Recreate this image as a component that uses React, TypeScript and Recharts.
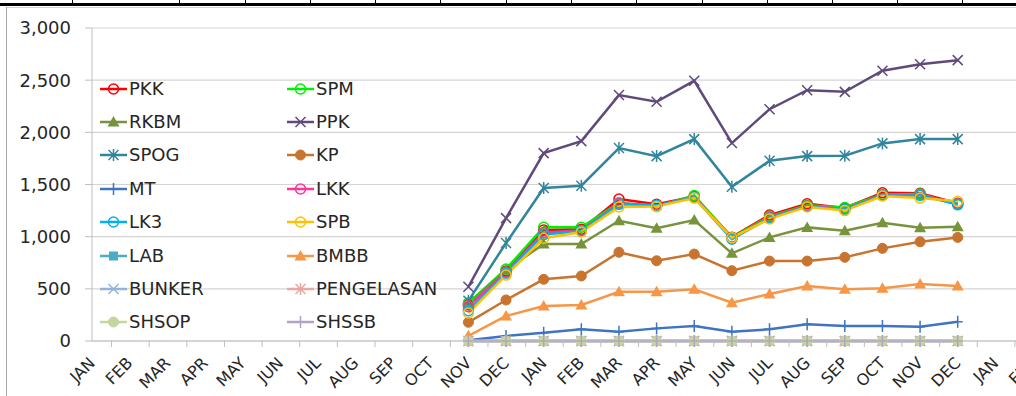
import { LineChart, Line, XAxis, YAxis, CartesianGrid, Legend, Text } from "recharts"

// months on the category axis (two years + two spare months)
const months = [
  "JAN", "FEB", "MAR", "APR", "MAY", "JUN", "JUL", "AUG", "SEP", "OCT", "NOV", "DEC",
  "JAN", "FEB", "MAR", "APR", "MAY", "JUN", "JUL", "AUG", "SEP", "OCT", "NOV", "DEC",
  "JAN", "FEB",
]
// series values start at the first NOV and run 14 months
const firstIndex = 10

const pkk = [350, 670, 1063, 1070, 1360, 1310, 1385, 995, 1207, 1315, 1275, 1420, 1415, 1320]
const spm = [365, 690, 1090, 1090, 1325, 1290, 1395, 990, 1195, 1300, 1280, 1405, 1410, 1305]
const rkbm = [345, 680, 930, 930, 1153, 1080, 1159, 840, 993, 1089, 1057, 1133, 1086, 1095]
const ppk = [520, 1178, 1801, 1916, 2357, 2293, 2494, 1897, 2222, 2404, 2388, 2590, 2653, 2692]
const spog = [385, 939, 1466, 1488, 1849, 1772, 1935, 1478, 1727, 1772, 1775, 1894, 1935, 1935]
const kp = [179, 393, 591, 623, 850, 769, 833, 674, 766, 766, 802, 888, 951, 993]
const mt = [8, 48, 80, 112, 89, 121, 144, 89, 112, 160, 144, 144, 137, 185]
const lkk = [330, 660, 1040, 1060, 1320, 1300, 1380, 985, 1185, 1295, 1265, 1400, 1400, 1315]
const lk3 = [290, 650, 1020, 1055, 1310, 1300, 1375, 975, 1180, 1290, 1260, 1395, 1395, 1310]
const spb = [268, 632, 985, 1045, 1285, 1290, 1370, 990, 1170, 1285, 1250, 1390, 1370, 1340]
const lab = [0, 0, 0, 0, 0, 0, 0, 0, 0, 0, 0, 0, 0, 0]
const bmbb = [50, 240, 335, 345, 472, 472, 495, 367, 450, 527, 495, 505, 546, 527]
const bunker = [0, 0, 0, 0, 0, 0, 0, 0, 0, 0, 0, 0, 0, 0]
const pengelasan = [0, 0, 0, 0, 0, 0, 0, 0, 0, 0, 0, 0, 0, 0]
const shsop = [0, 0, 0, 0, 0, 0, 0, 0, 0, 0, 0, 0, 0, 0]
const shssb = [0, 0, 0, 0, 0, 0, 0, 0, 0, 0, 0, 0, 0, 0]

const yTicks = [0, 500, 1000, 1500, 2000, 2500, 3000]

type Shape = "ring" | "dot" | "triangle" | "cross" | "star" | "plus" | "square"

const series: { name: string; color: string; shape: Shape; values: number[] }[] = [
  { name: "PKK", color: "#FF0000", shape: "ring", values: pkk },
  { name: "SPM", color: "#00F000", shape: "ring", values: spm },
  { name: "RKBM", color: "#77933C", shape: "triangle", values: rkbm },
  { name: "PPK", color: "#604A7B", shape: "cross", values: ppk },
  { name: "SPOG", color: "#31859C", shape: "star", values: spog },
  { name: "KP", color: "#C8742F", shape: "dot", values: kp },
  { name: "MT", color: "#3F74C4", shape: "plus", values: mt },
  { name: "LKK", color: "#FF3399", shape: "ring", values: lkk },
  { name: "LK3", color: "#00B0F0", shape: "ring", values: lk3 },
  { name: "SPB", color: "#FFC000", shape: "ring", values: spb },
  { name: "LAB", color: "#4BACC6", shape: "square", values: lab },
  { name: "BMBB", color: "#F79646", shape: "triangle", values: bmbb },
  { name: "BUNKER", color: "#95B3D7", shape: "cross", values: bunker },
  { name: "PENGELASAN", color: "#E6A8A4", shape: "star", values: pengelasan },
  { name: "SHSOP", color: "#C3D69B", shape: "dot", values: shsop },
  { name: "SHSSB", color: "#B3A2C7", shape: "plus", values: shssb },
]

const data = months.map((m, i) => {
  const row: Record<string, string | number | null> = { idx: i, month: m }
  series.forEach((s) => {
    const k = i - firstIndex
    row[s.name] = k >= 0 && k < s.values.length ? s.values[k] : null
  })
  return row
})

const FONT = "'DejaVu Sans', sans-serif"
const CHART_W = 1040
const CHART_H = 396
const Y_AXIS_W = 92
const MARGIN = { top: 28, right: 7, left: 0, bottom: 0 }
const STEP = (CHART_W - Y_AXIS_W - MARGIN.right - MARGIN.left) / months.length

function Marker({ cx, cy, shape, color }: { cx: number; cy: number; shape: Shape; color: string }) {
  switch (shape) {
    case "ring":
      return <circle cx={cx} cy={cy} r={5} fill="none" stroke={color} strokeWidth={1.5} />
    case "dot":
      return <circle cx={cx} cy={cy} r={5} fill={color} stroke={color} strokeWidth={1} />
    case "triangle":
      return <path d={`M${cx},${cy - 6}L${cx + 6},${cy + 4.5}L${cx - 6},${cy + 4.5}Z`} fill={color} />
    case "cross":
      return (
        <path
          d={`M${cx - 5},${cy - 5}L${cx + 5},${cy + 5}M${cx - 5},${cy + 5}L${cx + 5},${cy - 5}`}
          stroke={color}
          strokeWidth={1.5}
        />
      )
    case "star":
      return (
        <path
          d={`M${cx - 5},${cy - 5}L${cx + 5},${cy + 5}M${cx - 5},${cy + 5}L${cx + 5},${cy - 5}M${cx},${cy - 6}L${cx},${cy + 6}`}
          stroke={color}
          strokeWidth={1.5}
        />
      )
    case "plus":
      return (
        <path d={`M${cx},${cy - 6}L${cx},${cy + 6}M${cx - 5},${cy}L${cx + 5},${cy}`} stroke={color} strokeWidth={1.5} />
      )
    case "square":
      return <rect x={cx - 4.5} y={cy - 4.5} width={9} height={9} fill={color} />
  }
  return null
}

function renderMonthTick(props: any) {
  const { x, y, payload } = props
  const label = months[Number(payload.value)]
  return (
    <g key={`tick-${payload.value}`}>
      {Number(payload.value) > 0 && (
        <line x1={x - STEP / 2} x2={x - STEP / 2} y1={y} y2={y + 6} stroke="#BFBFBF" />
      )}
      <Text
        x={x + 4}
        y={y + 23}
        angle={-45}
        textAnchor="end"
        verticalAnchor="end"
        fontFamily={FONT}
        fontSize={16}
        fill="#262626"
      >
        {label}
      </Text>
    </g>
  )
}

function LegendBox() {
  return (
    <div style={{ display: "grid", gridTemplateColumns: "187px 187px" }}>
      {series.map((s) => (
        <div key={s.name} style={{ height: 33.4, display: "flex", alignItems: "center" }}>
          <svg width={29} height={20} style={{ display: "block" }}>
            <line x1={0} x2={27} y1={10} y2={10} stroke={s.color} strokeWidth={2.5} />
            <Marker cx={13.5} cy={10} shape={s.shape} color={s.color} />
          </svg>
          <span style={{ fontFamily: FONT, fontSize: 18, color: "#262626", lineHeight: "20px" }}>{s.name}</span>
        </div>
      ))}
    </div>
  )
}

// cell borders of the sheet above the chart
const sheetCols = [72, 179, 245, 310, 375, 440, 506, 571, 636, 702, 767, 832, 897, 962]

const abs = (left: number, top: number, width: number, height: number, background: string) => ({
  position: "absolute" as const,
  left,
  top,
  width,
  height,
  background,
})

export default function App() {
  return (
    <div
      style={{
        position: "fixed",
        left: 0,
        top: 0,
        width: 1016,
        height: 396,
        overflow: "hidden",
        background: "#fff",
      }}
    >
      <LineChart width={CHART_W} height={CHART_H} data={data} margin={MARGIN}>
        <CartesianGrid vertical={false} stroke="#D4D4D4" strokeWidth={1.2} />
        <XAxis
          dataKey="idx"
          type="category"
          interval={0}
          height={55}
          tickSize={0}
          tickMargin={0}
          tickLine={false}
          axisLine={{ stroke: "#BFBFBF" }}
          tick={renderMonthTick}
        />
        <YAxis
          width={Y_AXIS_W}
          domain={[0, 3000]}
          ticks={yTicks}
          interval={0}
          tickSize={7}
          tickMargin={14}
          axisLine={{ stroke: "#BFBFBF" }}
          tickLine={{ stroke: "#BFBFBF" }}
          tickFormatter={(v: number) => v.toLocaleString("en-US")}
          tick={{ fontFamily: FONT, fontSize: 18, fill: "#262626" }}
        />
        <Legend
          layout="horizontal"
          verticalAlign="middle"
          align="center"
          content={() => <LegendBox />}
          wrapperStyle={{ left: 100, top: 72, width: 380, height: 270 }}
        />
        {series.map((s) => (
          <Line
            key={s.name}
            dataKey={s.name}
            name={s.name}
            stroke={s.color}
            strokeWidth={2.5}
            isAnimationActive={false}
            dot={(p: any) =>
              p.cy == null ? (
                <g key={`${s.name}-${p.index}`} />
              ) : (
                <Marker key={`${s.name}-${p.index}`} cx={p.cx} cy={p.cy} shape={s.shape} color={s.color} />
              )
            }
            activeDot={false}
          />
        ))}
      </LineChart>
      <div style={abs(0, 3, 1016, 3, "#000")} />
      {sheetCols.map((x) => (
        <div key={x} style={abs(x, 0, 1, 4, "#000")} />
      ))}
      <div style={abs(6, 7, 1010, 1, "#D0D0D0")} />
      <div style={abs(6, 7, 1, 389, "#A6A6A6")} />
    </div>
  )
}
